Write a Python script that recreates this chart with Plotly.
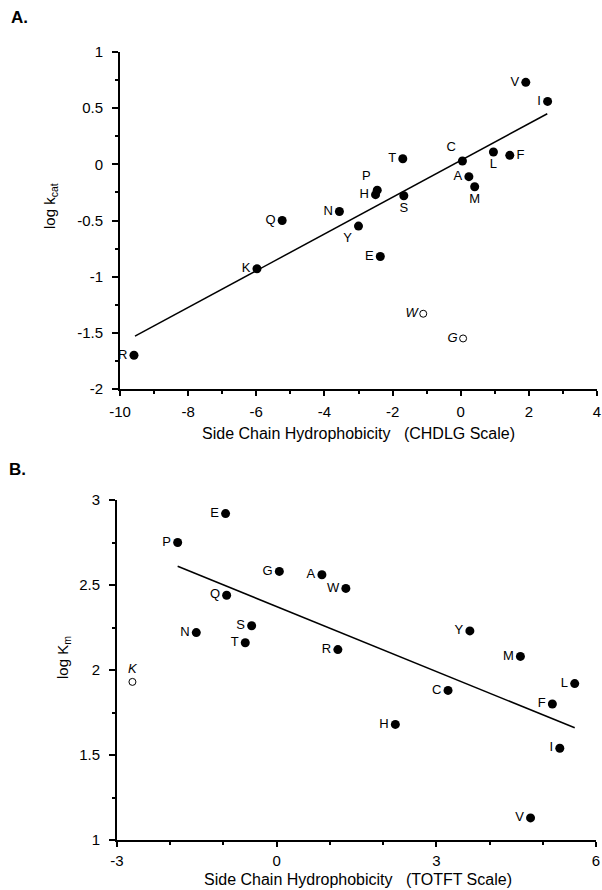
import plotly.graph_objects as go

# Panel A: log kcat vs CHDLG hydrophobicity
a_labels = ["V", "I", "C", "L", "F", "A", "M", "T", "P", "H", "S", "N", "Y", "E", "Q", "K", "R"]
a_x = [1.91, 2.55, 0.05, 0.96, 1.44, 0.24, 0.41, -1.70, -2.45, -2.50, -1.67, -3.56, -3.00, -2.36, -5.24, -5.98, -9.59]
a_y = [0.73, 0.56, 0.03, 0.11, 0.08, -0.11, -0.20, 0.05, -0.23, -0.27, -0.28, -0.42, -0.55, -0.82, -0.50, -0.93, -1.70]
a_open_labels = ["W", "G"]
a_open_x = [-1.10, 0.07]
a_open_y = [-1.33, -1.55]
a_fit_x = [-9.56, 2.54]
a_fit_y = [-1.53, 0.45]
a_xticks = [-10, -8, -6, -4, -2, 0, 2, 4]
a_xticktext = ["-10", "-8", "-6", "-4", "-2", "0", "2", "4"]
a_yticks = [-2, -1.5, -1, -0.5, 0, 0.5, 1]
a_yticktext = ["-2", "-1.5", "-1", "-0.5", "0", "0.5", "1"]

# Panel B: log Km vs TOTFT hydrophobicity
b_labels = ["E", "P", "G", "A", "W", "Q", "S", "N", "T", "Y", "R", "M", "L", "C", "F", "H", "I", "V"]
b_x = [-0.96, -1.86, 0.05, 0.85, 1.30, -0.94, -0.47, -1.51, -0.59, 3.63, 1.15, 4.58, 5.60, 3.22, 5.18, 2.23, 5.32, 4.77]
b_y = [2.92, 2.75, 2.58, 2.56, 2.48, 2.44, 2.26, 2.22, 2.16, 2.23, 2.12, 2.08, 1.92, 1.88, 1.80, 1.68, 1.54, 1.13]
b_open_labels = ["K"]
b_open_x = [-2.71]
b_open_y = [1.93]
b_fit_x = [-1.86, 5.60]
b_fit_y = [2.61, 1.66]
b_xticks = [-3, 0, 3, 6]
b_xticktext = ["-3", "0", "3", "6"]
b_yticks = [1, 1.5, 2, 2.5, 3]
b_yticktext = ["1", "1.5", "2", "2.5", "3"]

W, H = 602, 890
FONT = "Arial, Liberation Sans, sans-serif"

a_pos = {"C": "top left", "L": "bottom center", "F": "middle right", "M": "bottom center",
         "S": "bottom center", "P": "top left", "Y": "bottom left"}
a_textpos = [a_pos.get(l, "middle left") for l in a_labels]

fig = go.Figure()

# Panel A traces
fig.add_trace(go.Scatter(x=a_fit_x, y=a_fit_y, mode="lines", line=dict(color="black", width=1.5),
                         xaxis="x", yaxis="y", showlegend=False, hoverinfo="skip"))
fig.add_trace(go.Scatter(x=a_x, y=a_y, mode="markers+text", text=a_labels, textposition=a_textpos,
                         textfont=dict(family=FONT, size=13, color="black"),
                         marker=dict(color="black", size=9),
                         xaxis="x", yaxis="y", showlegend=False))
fig.add_trace(go.Scatter(x=a_open_x, y=a_open_y, mode="markers+text",
                         text=["<i>" + l + "</i>" for l in a_open_labels], textposition="middle left",
                         textfont=dict(family=FONT, size=13, color="black"),
                         marker=dict(color="white", size=7, line=dict(color="black", width=1)),
                         xaxis="x", yaxis="y", showlegend=False))

# Panel B traces
fig.add_trace(go.Scatter(x=b_fit_x, y=b_fit_y, mode="lines", line=dict(color="black", width=1.5),
                         xaxis="x2", yaxis="y2", showlegend=False, hoverinfo="skip"))
fig.add_trace(go.Scatter(x=b_x, y=b_y, mode="markers+text", text=b_labels, textposition="middle left",
                         textfont=dict(family=FONT, size=13, color="black"),
                         marker=dict(color="black", size=9),
                         xaxis="x2", yaxis="y2", showlegend=False))
fig.add_trace(go.Scatter(x=b_open_x, y=b_open_y, mode="markers+text",
                         text=["<i>" + l + "</i>" for l in b_open_labels], textposition="top center",
                         textfont=dict(family=FONT, size=13, color="black"),
                         marker=dict(color="white", size=7, line=dict(color="black", width=1)),
                         xaxis="x2", yaxis="y2", showlegend=False))

def px_x(p):
    return p / W

def px_y(p):
    return 1 - p / H

axis_common = dict(showgrid=False, zeroline=False, showline=True, linecolor="black", linewidth=2,
                   ticks="outside", tickwidth=1.5, tickcolor="black", automargin=False,
                   tickfont=dict(family=FONT, size=15, color="black"))

fig.update_layout(
    width=W, height=H, margin=dict(l=0, r=0, t=0, b=0),
    paper_bgcolor="white", plot_bgcolor="white",
    xaxis=dict(domain=[px_x(120), px_x(597)], anchor="y", range=[-10, 4],
               tickvals=a_xticks, ticktext=a_xticktext, ticklen=5, ticklabelstandoff=3,
               minor=dict(dtick=1, tick0=0, ticks="outside", ticklen=3, tickcolor="black"),
               **axis_common),
    yaxis=dict(domain=[px_y(389), px_y(52)], anchor="x", range=[-2, 1],
               tickvals=a_yticks, ticktext=a_yticktext, ticklen=6, ticklabelstandoff=6,
               minor=dict(dtick=0.25, tick0=0, ticks="outside", ticklen=3, tickcolor="black"),
               **axis_common),
    xaxis2=dict(domain=[px_x(117), px_x(596)], anchor="y2", range=[-3, 6],
                tickvals=b_xticks, ticktext=b_xticktext, ticklen=5, ticklabelstandoff=1,
                minor=dict(dtick=1, tick0=0, ticks="outside", ticklen=3, tickcolor="black"),
                **axis_common),
    yaxis2=dict(domain=[px_y(840), px_y(500)], anchor="x2", range=[1, 3],
                tickvals=b_yticks, ticktext=b_yticktext, ticklen=6, ticklabelstandoff=6,
                minor=dict(dtick=0.25, tick0=0, ticks="outside", ticklen=3, tickcolor="black"),
                **axis_common),
)

ann = [
    dict(text="<b>A.</b>", x=px_x(9), y=px_y(18), xanchor="left", yanchor="middle", font=dict(size=17)),
    dict(text="<b>B.</b>", x=px_x(7), y=px_y(470), xanchor="left", yanchor="middle", font=dict(size=17)),
    dict(text="Side Chain Hydrophobicity   (CHDLG Scale)", x=px_x(358), y=px_y(433), xanchor="center",
         yanchor="middle", font=dict(size=16)),
    dict(text="Side Chain Hydrophobicity   (TOTFT Scale)", x=px_x(358), y=px_y(879), xanchor="center",
         yanchor="middle", font=dict(size=16)),
    dict(text="log k<sub>cat</sub>", x=px_x(51), y=px_y(206), xanchor="center", yanchor="middle",
         textangle=-90, font=dict(size=15)),
    dict(text="log K<sub>m</sub>", x=px_x(63), y=px_y(658), xanchor="center", yanchor="middle",
         textangle=-90, font=dict(size=15)),
]
for a in ann:
    a.update(xref="paper", yref="paper", showarrow=False)
    a["font"].update(family=FONT, color="black")
fig.update_layout(annotations=ann)

fig.write_html("out.html", config={"displayModeBar": False},
               post_script="document.body.style.margin='0';document.body.style.overflow='hidden';")
